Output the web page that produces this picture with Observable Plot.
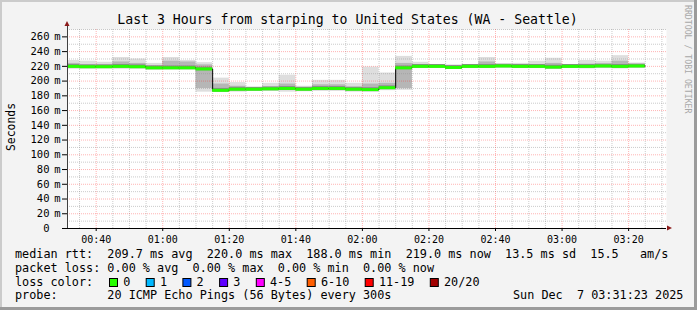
<!DOCTYPE html>
<html><head><meta charset="utf-8">
<script src="https://cdn.jsdelivr.net/npm/d3@7"></script>
<script src="https://cdn.jsdelivr.net/npm/@observablehq/plot@0.6"></script>
<style>
html,body{margin:0;padding:0;background:#f3f3f3;}
#chart{width:697px;height:310px;}
svg text{font-family:"DejaVu Sans Mono",monospace;}
</style></head><body><div id="chart"></div>
<script>
// 5-minute slot start times (UTC, Sun Dec 7 2025)
const slots = ["00:30","00:35","00:40","00:45","00:50","00:55","01:00","01:05","01:10","01:15",
  "01:20","01:25","01:30","01:35","01:40","01:45","01:50","01:55","02:00","02:05",
  "02:10","02:15","02:20","02:25","02:30","02:35","02:40","02:45","02:50","02:55",
  "03:00","03:05","03:10","03:15","03:20"];
// median rtt (ms)
const medianMs = [220,219.5,219.5,220,219.5,218,218,218,216.5,187.5,
  189,189,189.5,190,189,190,190,189,188.5,191,
  218,220,220,218.5,220,220,220.5,220,220,219,
  220,220,220.5,220,220.5];
// smoke: slowest ping (ms)
const maxMs = [228,227,225.5,232,230,224,232,228,225,204,
  198,191.5,197,208,193,201,201,197,219,211,
  233.5,225.5,222,222,222,232,222.5,224,227,231,
  222,228,227,234.5,224.5];
// smoke: upper inner band (ms)
const hiMs = [224,222,222,226,224,221,227,226,222,196,
  193,190.5,192,196,191,195,195,192,196,197,
  224,222,221,220.5,221,226,221.5,221.5,222,224,
  221,223,223,227,222.5];
// smoke: lower inner band (ms)
const loMs = [218,218,218,218,218,216.5,217,217,190,186,
  187,187.5,188,187.5,187.5,188,188,187,186.5,189,
  190,218.5,219,217,218.5,218.5,219,218.5,218.5,217.5,
  218.5,218,218.5,218,219];
// smoke: fastest ping (ms)
const minMs = [216,216,216.5,216,216,215,215.5,215.5,185,184.5,
  185,186,186,185,185.5,186,186,185,184.5,187,
  187.5,217,218,216,217,217,218,217,217,216,
  217,216.5,217,216.5,217.5];

const yTicks = [0,20,40,60,80,100,120,140,160,180,200,220,240,260];
const yMinor = [10,30,50,70,90,110,130,150,170,190,210,230,250,270];

const title = "Last 3 Hours from starping to United States (WA - Seattle)";
const yLabel = "Seconds";
const statsLine1 = "median rtt:  209.7 ms avg  220.0 ms max  188.0 ms min  219.0 ms now  13.5 ms sd  15.5   am/s";
const statsLine2 = "packet loss: 0.00 % avg  0.00 % max  0.00 % min  0.00 % now";
const lossLabel = "loss color:";
const lossNames = ["0","1","2","3","4-5","6-10","11-19","20/20"];
const lossColors = ["#26ff00","#00b8ff","#0059ff","#5e00ff","#ff00ff","#ff5e00","#ff0000","#a10000"];
const probeLine = "probe:       20 ICMP Echo Pings (56 Bytes) every 300s";
const stamp = "Sun Dec  7 03:31:23 2025";
const watermark = "RRDTOOL / TOBI OETIKER";

const toDate = s => { const [h,m] = s.split(":").map(Number); return new Date(Date.UTC(2025,11,7,h,m)); };
const start = new Date(Date.UTC(2025,11,7,0,31,23));
const end = new Date(Date.UTC(2025,11,7,3,31,23));
const data = slots.map((s,i) => ({
  x1: toDate(s), x2: new Date(+toDate(s) + 300000),
  med: medianMs[i], max: maxMs[i], hi: hiMs[i], lo: loMs[i], min: minMs[i]
}));
const stepPts = data.map(d => ({x: d.x1, y: d.med}));
stepPts.push({x: data[data.length-1].x2, y: data[data.length-1].med});

const majorX = d3.utcMinute.every(20).range(start, end);
const minorX = d3.utcMinute.every(5).range(start, end).filter(d => d.getUTCMinutes() % 20 !== 0);

const minorStroke = "rgba(140,140,140,0.45)";
const majorStroke = "rgba(255,40,40,0.35)";

const plot = Plot.plot({
  width: 697, height: 310,
  marginLeft: 67, marginRight: 31, marginTop: 29, marginBottom: 82,
  style: {background: "#f3f3f3", fontFamily: "DejaVu Sans Mono", fontSize: "10px", color: "#000", overflow: "visible"},
  x: {type: "utc", domain: [start, end]},
  y: {domain: [0, 270]},
  marks: [
    Plot.frame({fill: "#ffffff", stroke: null}),
    Plot.rect(data, {x1: "x1", x2: "x2", y1: "min", y2: "max", fill: "#dedede", clip: true}),
    Plot.rect(data, {x1: "x1", x2: "x2", y1: "lo", y2: "hi", fill: "#b6b6b6", clip: true}),
    Plot.rect(data, {x1: "x1", x2: "x2", y1: d => d.med - 2.5, y2: d => d.med + 2.5, fill: "#8a8a8a", clip: true}),
    Plot.ruleX(minorX, {stroke: minorStroke, strokeDasharray: "1,1"}),
    Plot.ruleY(yMinor, {stroke: minorStroke, strokeDasharray: "1,1"}),
    Plot.ruleX(majorX, {stroke: majorStroke, strokeDasharray: "1,1"}),
    Plot.ruleY(yTicks.filter(d => d > 0), {stroke: majorStroke, strokeDasharray: "1,1"}),
    Plot.line(stepPts, {x: "x", y: "y", curve: "step-after", stroke: "#000", strokeWidth: 1, clip: true}),
    Plot.ruleY(data, {y: "med", x1: "x1", x2: "x2", stroke: "#26ff00", strokeWidth: 3, clip: true}),
    Plot.axisY({ticks: yTicks, tickSize: 5, tickPadding: 13, tickFormat: d => String(d), stroke: "#000", fontSize: 10.5, label: null}),
    Plot.text(yTicks.filter(d => d > 0), {y: d => d, text: () => "m", frameAnchor: "left", dx: -10, textAnchor: "middle", fontSize: 10.5}),
    Plot.axisX({ticks: majorX, tickSize: 3, tickPadding: 4, tickFormat: d3.utcFormat("%H:%M"), fontSize: 10, label: null}),
    Plot.ruleY([0], {stroke: "#000", strokeWidth: 1, insetLeft: -5}),
    Plot.ruleX([start], {stroke: "#404040", strokeWidth: 1, insetTop: -4})
  ]
});
document.getElementById("chart").appendChild(plot);

const svg = d3.select(plot);
// frame shading
svg.append("rect").attr("x",0).attr("y",0).attr("width",697).attr("height",2).attr("fill","#cbcbcb");
svg.append("rect").attr("x",0).attr("y",0).attr("width",2).attr("height",310).attr("fill","#cbcbcb");
svg.append("rect").attr("x",694).attr("y",0).attr("width",3).attr("height",310).attr("fill","#9b9b9b");
svg.append("rect").attr("x",0).attr("y",307).attr("width",697).attr("height",3).attr("fill","#9b9b9b");
// axis arrows
svg.append("path").attr("d","M64.5,26L69.5,26L67,21Z").attr("fill","#8b1a1a");
svg.append("path").attr("d","M667,225.5L667,230.5L672,228Z").attr("fill","#8b1a1a");

const txt = (x, y, s, size, anchor, extra) => {
  const t = svg.append("text").attr("x", x).attr("y", y).attr("font-size", size)
    .attr("text-anchor", anchor || "start")
    .attr("xml:space","preserve").style("white-space","pre").attr("fill","#000").text(s);
  if (extra) extra(t);
  return t;
};
txt(347.5, 24, title, 13.2, "middle");
txt(0, 0, yLabel, 11.4, "middle", t => t.attr("transform","translate(14.5,127) rotate(-90)"));
txt(0, 0, watermark, 8.2, "start", t => t.attr("fill","#a8a8a8").attr("transform","translate(684.5,5) rotate(90)"));
txt(15, 258.3, statsLine1, 11.8);
txt(15, 271.9, statsLine2, 11.8);
txt(15, 285.5, lossLabel, 11.8);
let lx = 109;
lossNames.forEach((n, i) => {
  svg.append("rect").attr("x", lx + 0.5).attr("y", 278.5).attr("width", 8).attr("height", 8)
    .attr("fill", lossColors[i]).attr("stroke", "#000").attr("stroke-width", 1);
  txt(lx + 14.2, 285.5, n, 11.8);
  lx += 36.7 + (n.length - 1) * 7.1;
});
txt(15, 299.1, probeLine, 11.8);
txt(513, 299.1, stamp, 11.8);
</script></body></html>
